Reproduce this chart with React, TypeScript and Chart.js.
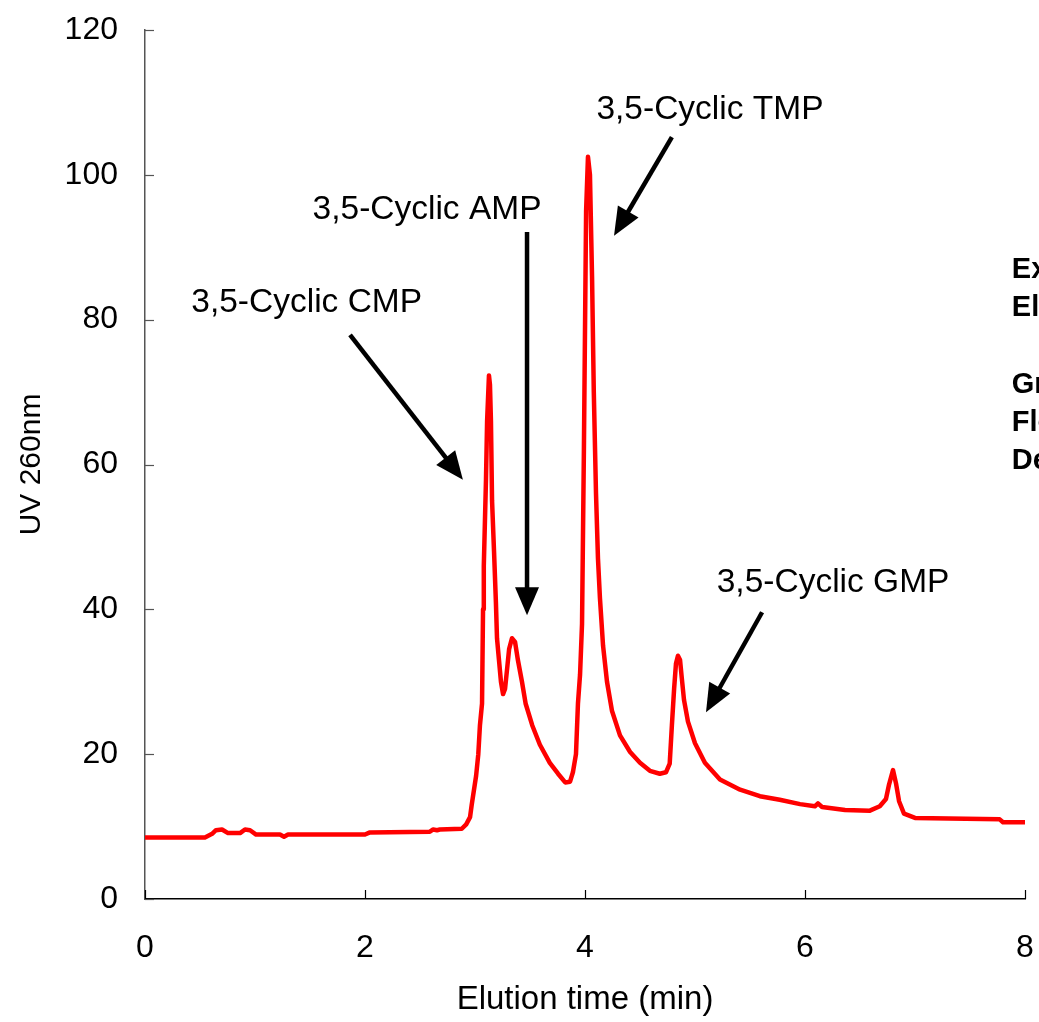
import React, { useEffect, useRef } from "react";
import { Chart, registerables } from "chart.js";

Chart.register(...registerables);

const timeMin: number[] = [
  0, 0.545, 0.61, 0.645, 0.7, 0.755, 0.864, 0.909, 0.955, 1.01, 1.227, 1.264, 1.3, 2.0, 2.045,
  2.59, 2.62, 2.655, 2.68, 2.88, 2.92, 2.955, 2.97, 2.99, 3.01, 3.03, 3.045, 3.064, 3.073, 3.08,
  3.1, 3.11, 3.127, 3.136, 3.145, 3.155, 3.173, 3.19, 3.2, 3.218, 3.236, 3.255, 3.273, 3.29, 3.31,
  3.336, 3.364, 3.39, 3.427, 3.46, 3.52, 3.59, 3.68, 3.755, 3.82, 3.864, 3.89, 3.918, 3.936, 3.955,
  3.973, 3.99, 4.01, 4.027, 4.045, 4.064, 4.08, 4.1, 4.118, 4.136, 4.164, 4.2, 4.245, 4.318, 4.41,
  4.5, 4.59, 4.68, 4.736, 4.77, 4.79, 4.81, 4.827, 4.845, 4.864, 4.88, 4.9, 4.936, 5.0, 5.09,
  5.227, 5.41, 5.59, 5.77, 5.955, 6.09, 6.118, 6.155, 6.364, 6.59, 6.68, 6.736, 6.764, 6.8, 6.827,
  6.855, 6.9, 7.0, 7.77, 7.8, 8.0,
];

const uv260: number[] = [
  8.5, 8.5, 9.0, 9.5, 9.6, 9.1, 9.1, 9.6, 9.5, 8.9, 8.9, 8.6, 8.9, 8.9, 9.2,
  9.3, 9.6, 9.5, 9.6, 9.7, 10.3, 11.3, 13, 15, 17, 20, 24, 27, 40, 46,
  58, 66, 72.3, 71, 66, 55, 48, 41, 36, 33, 30, 28.3, 29, 31.5, 34.5,
  36, 35.5, 33, 30, 27, 24, 21.3, 18.8, 17.3, 16.1, 16.2, 17.5, 20, 27, 31,
  38, 62, 95, 102.5, 100, 86, 70, 56, 47, 41.5, 35, 30, 26, 22.6, 20.3,
  18.8, 17.7, 17.3, 17.5, 18.7, 24, 29, 32.5, 33.6, 33, 30.5, 27.5, 24.5, 21.5, 18.8,
  16.5, 15.1, 14.2, 13.7, 13.1, 12.8, 13.2, 12.7, 12.3, 12.2, 12.8, 13.8, 15.8, 17.8, 16,
  13.5, 11.8, 11.2, 11.0, 10.6, 10.6,
];

const xTicks: number[] = [0, 2, 4, 6, 8];
const yTicks: number[] = [0, 20, 40, 60, 80, 100, 120];

const peakLabels: string[] = ["3,5-Cyclic CMP", "3,5-Cyclic AMP", "3,5-Cyclic TMP", "3,5-Cyclic GMP"];
const labelX: number[] = [1.47, 2.564, 5.136, 6.255];
const labelY: number[] = [82.3, 95.2, 109.0, 43.6];
const arrowFromX: number[] = [1.864, 3.473, 4.79, 5.61];
const arrowFromY: number[] = [77.9, 92.1, 105.2, 39.6];
const arrowToX: number[] = [2.89, 3.473, 4.264, 5.1];
const arrowToY: number[] = [57.9, 39.2, 91.6, 25.8];

const sideLines: string[] = ["Experimental conditions:", "Eluent:", "Gradient:", "Flow rate:", "Detection:"];
const sideX = 7.88;
const sideY: number[] = [86.9, 81.6, 71.0, 65.7, 60.5];

const FONT = "'Liberation Sans', Arial, sans-serif";

const overlayPlugin = {
  id: "overlay",
  afterDraw(chart: any) {
    const ctx = chart.ctx as CanvasRenderingContext2D;
    const xs = chart.scales.x;
    const ys = chart.scales.y;
    const area = chart.chartArea;
    ctx.save();
    // inward tick marks
    ctx.strokeStyle = "#555";
    ctx.lineWidth = 1.2;
    ys.ticks.forEach((t: any) => {
      const py = Math.round(ys.getPixelForValue(t.value)) + 0.5;
      ctx.beginPath();
      ctx.moveTo(area.left, py);
      ctx.lineTo(area.left + 9, py);
      ctx.stroke();
    });
    ctx.strokeStyle = "#000";
    xs.ticks.forEach((t: any) => {
      const px = Math.round(xs.getPixelForValue(t.value)) + 0.5;
      ctx.beginPath();
      ctx.moveTo(px, area.bottom);
      ctx.lineTo(px, area.bottom - 9);
      ctx.stroke();
    });

    // peak labels
    ctx.fillStyle = "#000";
    ctx.font = `33.5px ${FONT}`;
    ctx.textAlign = "center";
    ctx.textBaseline = "middle";
    peakLabels.forEach((s, i) => {
      ctx.fillText(s, xs.getPixelForValue(labelX[i]), ys.getPixelForValue(labelY[i]));
    });

    // arrows
    ctx.strokeStyle = "#000";
    ctx.lineWidth = 4.5;
    ctx.lineCap = "butt";
    for (let i = 0; i < arrowFromX.length; i++) {
      const x1 = xs.getPixelForValue(arrowFromX[i]);
      const y1 = ys.getPixelForValue(arrowFromY[i]);
      const x2 = xs.getPixelForValue(arrowToX[i]);
      const y2 = ys.getPixelForValue(arrowToY[i]);
      const ang = Math.atan2(y2 - y1, x2 - x1);
      const headLen = 28;
      const headW = 12;
      const bx = x2 - headLen * Math.cos(ang);
      const by = y2 - headLen * Math.sin(ang);
      ctx.beginPath();
      ctx.moveTo(x1, y1);
      ctx.lineTo(bx + 2 * Math.cos(ang), by + 2 * Math.sin(ang));
      ctx.stroke();
      ctx.beginPath();
      ctx.moveTo(x2, y2);
      ctx.lineTo(bx + headW * Math.sin(ang), by - headW * Math.cos(ang));
      ctx.lineTo(bx - headW * Math.sin(ang), by + headW * Math.cos(ang));
      ctx.closePath();
      ctx.fill();
    }

    // side text (cut off by canvas edge)
    ctx.font = `bold 29px ${FONT}`;
    ctx.textAlign = "left";
    sideLines.forEach((s, i) => {
      ctx.fillText(s, xs.getPixelForValue(sideX), ys.getPixelForValue(sideY[i]));
    });
    ctx.restore();
  },
};

export default function App() {
  const ref = useRef<HTMLCanvasElement | null>(null);
  useEffect(() => {
    if (!ref.current) return;
    const chart = new Chart(ref.current, {
      type: "line",
      data: {
        datasets: [
          {
            data: timeMin.map((t, i) => ({ x: t, y: uv260[i] })),
            borderColor: "#ff0000",
            borderWidth: 4.5,
            pointRadius: 0,
            tension: 0,
            borderJoinStyle: "round",
            fill: false,
          },
        ],
      },
      options: {
        animation: false,
        responsive: false,
        maintainAspectRatio: false,
        layout: { padding: { left: 0, right: 14, top: 30, bottom: 0 } },
        plugins: { legend: { display: false }, tooltip: { enabled: false } },
        scales: {
          x: {
            type: "linear",
            min: 0,
            max: 8,
            afterBuildTicks: (s: any) => {
              s.ticks = xTicks.map((v) => ({ value: v }));
            },
            afterFit: (s: any) => {
              s.height = 123;
              s.paddingLeft = 0;
              s.paddingRight = 0;
            },
            grid: { display: false, drawTicks: false },
            border: { display: true, color: "#000", width: 1.5 },
            ticks: {
              padding: 30,
              color: "#000",
              font: { family: FONT, size: 32 },
              maxRotation: 0,
            },
            title: {
              display: true,
              text: "Elution time (min)",
              color: "#000",
              font: { family: FONT, size: 33 },
              padding: { top: 0, bottom: 2 },
            },
          },
          y: {
            type: "linear",
            min: 0,
            max: 120,
            afterBuildTicks: (s: any) => {
              s.ticks = yTicks.map((v) => ({ value: v }));
            },
            afterFit: (s: any) => {
              s.width = 145;
              s.paddingTop = 0;
              s.paddingBottom = 0;
            },
            grid: { display: false, drawTicks: false },
            border: { display: true, color: "#555", width: 1.5 },
            ticks: {
              padding: 27,
              color: "#000",
              font: { family: FONT, size: 32 },
            },
            title: {
              display: true,
              text: "UV 260nm",
              color: "#000",
              font: { family: FONT, size: 30 },
              padding: { top: 14, bottom: 0 },
            },
          },
        },
      },
      plugins: [overlayPlugin],
    });
    return () => chart.destroy();
  }, []);
  return (
    <div style={{ position: "fixed", left: 0, top: 0, width: 1039, height: 1022, background: "#fff" }}>
      <canvas ref={ref} width={1039} height={1022} style={{ width: 1039, height: 1022 }} />
    </div>
  );
}
